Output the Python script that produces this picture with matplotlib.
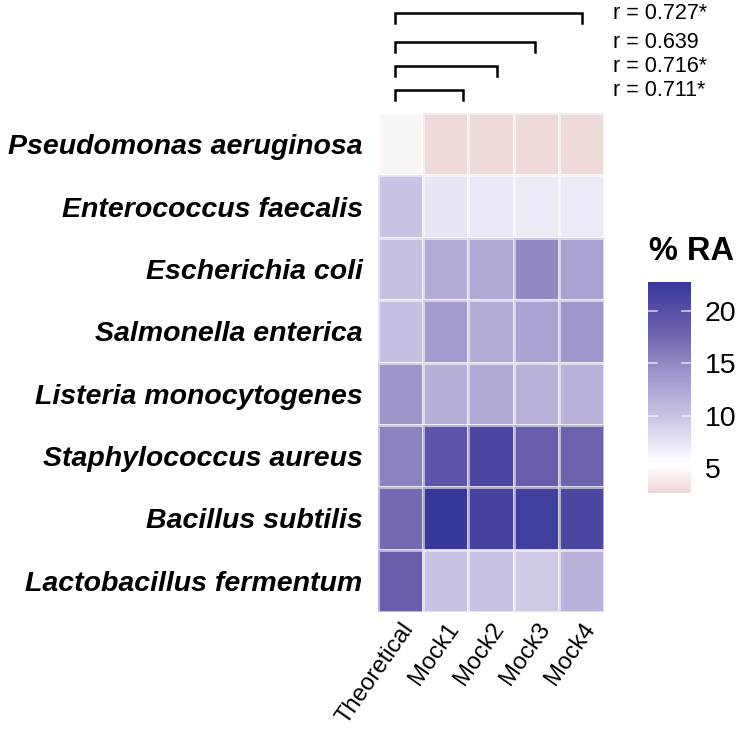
import numpy as np
import matplotlib
matplotlib.use("Agg")
import matplotlib.pyplot as plt
from matplotlib.colors import LinearSegmentedColormap

species = ["Pseudomonas aeruginosa", "Enterococcus faecalis", "Escherichia coli",
           "Salmonella enterica", "Listeria monocytogenes", "Staphylococcus aureus",
           "Bacillus subtilis", "Lactobacillus fermentum"]
samples = ["Theoretical", "Mock1", "Mock2", "Mock3", "Mock4"]

theoretical = [4.8, 9.9, 10.1, 10.4, 14.1, 15.5, 17.4, 18.4]
mock1 = [2.9, 7.3, 12.0, 13.5, 11.8, 19.5, 23.0, 10.0]
mock2 = [2.9, 7.1, 12.5, 12.0, 12.2, 21.0, 21.5, 10.0]
mock3 = [2.9, 7.0, 15.0, 13.0, 11.5, 18.5, 22.0, 9.5]
mock4 = [2.9, 7.0, 13.0, 14.0, 11.5, 18.0, 21.0, 11.5]

r_labels = ["r = 0.727*", "r = 0.639", "r = 0.716*", "r = 0.711*"]
r_ends = [4.01, 2.97, 2.13, 1.38]

cbar_ticks = [5, 10, 15, 20]
vmin, vmax = 2.6, 22.8

plt.rcParams['font.family'] = ['Liberation Sans', 'DejaVu Sans']

data = np.array([theoretical, mock1, mock2, mock3, mock4]).T

nodes = [(2.6, "#eed6d6"), (5.3, "#ffffff"), (10.0, "#c9c3e3"),
         (14.0, "#9f96cb"), (18.0, "#6d62ae"), (22.8, "#38389a")]
cmap = LinearSegmentedColormap.from_list(
    "ra", [((v - vmin) / (vmax - vmin), c) for v, c in nodes])

fig = plt.figure(figsize=(7.44, 7.31), dpi=100)
ax = fig.add_axes([378/744, 1-612/731, (604-378)/744, (612-113)/731])
mesh = ax.pcolormesh(np.arange(len(samples)+1) - 0.5, np.arange(len(species)+1) - 0.5,
                     data, cmap=cmap, vmin=vmin, vmax=vmax,
                     edgecolors=(1, 1, 1, 0.55), linewidth=1.0)
ax.set_xlim(-0.5, len(samples) - 0.5)
ax.set_ylim(len(species) - 0.5, -0.5)
for s in ax.spines.values():
    s.set_visible(False)
ax.set_yticks(range(len(species)))
ax.set_yticklabels(species, fontsize=20.5, fontweight='bold', fontstyle='italic')
ax.set_xticks(range(len(samples)))
ax.set_xticklabels(samples, fontsize=17.2, rotation=55, ha='right', va='top',
                   rotation_mode='anchor')
ax.tick_params(length=0, pad=11, axis='y')
ax.tick_params(length=0, pad=5, axis='x')

# brackets
ys = [13, 42, 66, 90]
for lab, xe, yp in zip(r_labels, r_ends, ys):
    yb = -0.5 - (113 - yp) / 62.4
    yt = yb + 10 / 62.4
    ax.plot([-0.12, -0.12, xe, xe], [yt, yb, yb, yt], color='black', lw=1.8,
            clip_on=False, solid_joinstyle='miter')
    ax.text(4.69, yb, lab, fontsize=15.5, va='center', ha='left', clip_on=False)

# colorbar
cax = fig.add_axes([648/744, 1-493/731, (691-648)/744, (493-282)/731])
cb = fig.colorbar(mesh, cax=cax, ticks=cbar_ticks)
cb.outline.set_visible(False)
cax.tick_params(length=0, labelsize=20.5, pad=10)
for t in cbar_ticks:
    cax.plot([0, 0.2], [t, t], color='white', lw=1.2, alpha=0.7)
    cax.plot([0.8, 1.0], [t, t], color='white', lw=1.2, alpha=0.7)
fig.text(649/744, 1-251/731, "% RA", fontsize=23.5, fontweight='bold', va='center', ha='left')

fig.savefig("out.png", dpi=100)
